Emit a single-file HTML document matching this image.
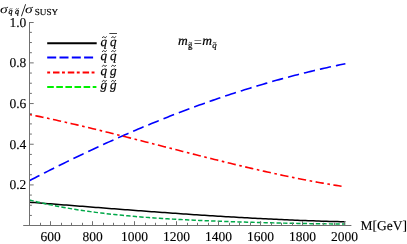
<!DOCTYPE html>
<html><head><meta charset="utf-8"><title>plot</title>
<style>
html,body{margin:0;padding:0;background:#fff;}
body{width:407px;height:244px;overflow:hidden;}
svg{display:block;font-family:"Liberation Serif",serif;text-rendering:geometricPrecision;will-change:transform;}
</style></head><body>
<svg width="407" height="244" viewBox="0 0 407 244">
<rect width="407" height="244" fill="#fff"/>
<g font-size="13.5" fill="#000" stroke="#000" stroke-width="0.12"><text x="50.5" y="241" text-anchor="middle">600</text><text x="92.5" y="241" text-anchor="middle">800</text><text x="134.5" y="241" text-anchor="middle">1000</text><text x="176.5" y="241" text-anchor="middle">1200</text><text x="218.5" y="241" text-anchor="middle">1400</text><text x="260.5" y="241" text-anchor="middle">1600</text><text x="302.5" y="241" text-anchor="middle">1800</text><text x="344.5" y="241" text-anchor="middle">2000</text><text x="26.3" y="189.2" text-anchor="end">0.2</text><text x="26.3" y="148.5" text-anchor="end">0.4</text><text x="26.3" y="107.9" text-anchor="end">0.6</text><text x="26.3" y="67.2" text-anchor="end">0.8</text><text x="26.3" y="26.8" text-anchor="end">1.0</text></g>
<text x="360.5" y="229.6" font-size="13.5" stroke="#000" stroke-width="0.12">M[GeV]</text>
<!-- curves -->
<path d="M29.40 202.17 L32.06 202.38 L34.71 202.59 L37.37 202.80 L40.02 203.01 L42.68 203.22 L45.33 203.43 L47.99 203.64 L50.64 203.85 L53.30 204.06 L55.95 204.27 L58.61 204.48 L61.27 204.69 L63.92 204.90 L66.58 205.11 L69.23 205.32 L71.89 205.53 L74.54 205.74 L77.20 205.95 L79.85 206.16 L82.51 206.37 L85.16 206.58 L87.82 206.79 L90.48 206.99 L93.13 207.20 L95.79 207.41 L98.44 207.62 L101.10 207.83 L103.75 208.03 L106.41 208.24 L109.06 208.44 L111.72 208.65 L114.37 208.85 L117.03 209.06 L119.69 209.26 L122.34 209.47 L125.00 209.67 L127.65 209.87 L130.31 210.07 L132.96 210.27 L135.62 210.47 L138.27 210.67 L140.93 210.87 L143.58 211.07 L146.24 211.26 L148.90 211.46 L151.55 211.65 L154.21 211.85 L156.86 212.04 L159.52 212.23 L162.17 212.42 L164.83 212.61 L167.48 212.80 L170.14 212.99 L172.79 213.18 L175.45 213.36 L178.11 213.55 L180.76 213.73 L183.42 213.91 L186.07 214.10 L188.73 214.28 L191.38 214.45 L194.04 214.63 L196.69 214.81 L199.35 214.98 L202.01 215.16 L204.66 215.33 L207.32 215.50 L209.97 215.67 L212.63 215.84 L215.28 216.00 L217.94 216.17 L220.59 216.33 L223.25 216.49 L225.90 216.65 L228.56 216.81 L231.22 216.97 L233.87 217.12 L236.53 217.27 L239.18 217.43 L241.84 217.58 L244.49 217.72 L247.15 217.87 L249.80 218.02 L252.46 218.16 L255.11 218.30 L257.77 218.44 L260.43 218.58 L263.08 218.71 L265.74 218.84 L268.39 218.97 L271.05 219.10 L273.70 219.23 L276.36 219.36 L279.01 219.48 L281.67 219.60 L284.32 219.72 L286.98 219.83 L289.64 219.95 L292.29 220.06 L294.95 220.17 L297.60 220.28 L300.26 220.38 L302.91 220.49 L305.57 220.59 L308.22 220.68 L310.88 220.78 L313.53 220.87 L316.19 220.96 L318.85 221.05 L321.50 221.14 L324.16 221.22 L326.81 221.30 L329.47 221.38 L332.12 221.45 L334.78 221.53 L337.43 221.60 L340.09 221.66 L342.74 221.73 L345.40 221.79" fill="none" stroke="#000" stroke-width="1.5"/>
<path d="M29.40 199.97 L32.06 200.64 L34.71 201.30 L37.37 201.93 L40.02 202.55 L42.68 203.16 L45.33 203.75 L47.99 204.32 L50.64 204.88 L53.30 205.42 L55.95 205.95 L58.61 206.46 L61.27 206.96 L63.92 207.45 L66.58 207.93 L69.23 208.39 L71.89 208.84 L74.54 209.27 L77.20 209.70 L79.85 210.11 L82.51 210.51 L85.16 210.90 L87.82 211.28 L90.48 211.65 L93.13 212.01 L95.79 212.36 L98.44 212.69 L101.10 213.02 L103.75 213.34 L106.41 213.65 L109.06 213.95 L111.72 214.25 L114.37 214.53 L117.03 214.81 L119.69 215.08 L122.34 215.34 L125.00 215.59 L127.65 215.84 L130.31 216.08 L132.96 216.31 L135.62 216.54 L138.27 216.76 L140.93 216.97 L143.58 217.18 L146.24 217.38 L148.90 217.58 L151.55 217.77 L154.21 217.95 L156.86 218.13 L159.52 218.31 L162.17 218.48 L164.83 218.64 L167.48 218.80 L170.14 218.96 L172.79 219.11 L175.45 219.26 L178.11 219.41 L180.76 219.55 L183.42 219.68 L186.07 219.82 L188.73 219.95 L191.38 220.08 L194.04 220.20 L196.69 220.32 L199.35 220.44 L202.01 220.56 L204.66 220.67 L207.32 220.78 L209.97 220.89 L212.63 220.99 L215.28 221.09 L217.94 221.19 L220.59 221.29 L223.25 221.39 L225.90 221.48 L228.56 221.58 L231.22 221.67 L233.87 221.76 L236.53 221.84 L239.18 221.93 L241.84 222.01 L244.49 222.09 L247.15 222.17 L249.80 222.25 L252.46 222.33 L255.11 222.41 L257.77 222.48 L260.43 222.55 L263.08 222.62 L265.74 222.69 L268.39 222.76 L271.05 222.83 L273.70 222.89 L276.36 222.96 L279.01 223.02 L281.67 223.08 L284.32 223.14 L286.98 223.20 L289.64 223.26 L292.29 223.31 L294.95 223.37 L297.60 223.42 L300.26 223.47 L302.91 223.52 L305.57 223.57 L308.22 223.61 L310.88 223.66 L313.53 223.70 L316.19 223.74 L318.85 223.78 L321.50 223.81 L324.16 223.84 L326.81 223.88 L329.47 223.90 L332.12 223.93 L334.78 223.96 L337.43 223.98 L340.09 224.00 L342.74 224.01 L345.40 224.03" fill="none" stroke="#00a848" stroke-width="1.45" stroke-dasharray="4.36 2.185"/>
<path d="M29.40 180.69 L32.06 179.30 L34.71 177.92 L37.37 176.55 L40.02 175.19 L42.68 173.83 L45.33 172.47 L47.99 171.13 L50.64 169.78 L53.30 168.45 L55.95 167.12 L58.61 165.80 L61.27 164.48 L63.92 163.17 L66.58 161.86 L69.23 160.57 L71.89 159.28 L74.54 157.99 L77.20 156.71 L79.85 155.44 L82.51 154.17 L85.16 152.91 L87.82 151.66 L90.48 150.41 L93.13 149.17 L95.79 147.94 L98.44 146.71 L101.10 145.49 L103.75 144.28 L106.41 143.07 L109.06 141.87 L111.72 140.67 L114.37 139.49 L117.03 138.30 L119.69 137.13 L122.34 135.96 L125.00 134.80 L127.65 133.65 L130.31 132.50 L132.96 131.36 L135.62 130.22 L138.27 129.10 L140.93 127.98 L143.58 126.86 L146.24 125.76 L148.90 124.66 L151.55 123.56 L154.21 122.48 L156.86 121.40 L159.52 120.33 L162.17 119.26 L164.83 118.20 L167.48 117.15 L170.14 116.11 L172.79 115.07 L175.45 114.04 L178.11 113.02 L180.76 112.00 L183.42 110.99 L186.07 109.99 L188.73 109.00 L191.38 108.01 L194.04 107.03 L196.69 106.06 L199.35 105.09 L202.01 104.14 L204.66 103.18 L207.32 102.24 L209.97 101.31 L212.63 100.38 L215.28 99.46 L217.94 98.54 L220.59 97.63 L223.25 96.74 L225.90 95.84 L228.56 94.96 L231.22 94.08 L233.87 93.21 L236.53 92.35 L239.18 91.50 L241.84 90.65 L244.49 89.81 L247.15 88.98 L249.80 88.16 L252.46 87.34 L255.11 86.53 L257.77 85.73 L260.43 84.94 L263.08 84.15 L265.74 83.38 L268.39 82.61 L271.05 81.85 L273.70 81.09 L276.36 80.35 L279.01 79.61 L281.67 78.88 L284.32 78.15 L286.98 77.44 L289.64 76.73 L292.29 76.03 L294.95 75.34 L297.60 74.66 L300.26 73.98 L302.91 73.32 L305.57 72.66 L308.22 72.01 L310.88 71.37 L313.53 70.73 L316.19 70.10 L318.85 69.49 L321.50 68.88 L324.16 68.27 L326.81 67.68 L329.47 67.09 L332.12 66.52 L334.78 65.95 L337.43 65.39 L340.09 64.83 L342.74 64.29 L345.40 63.75" fill="none" stroke="#0000ff" stroke-width="1.6" stroke-dasharray="11.35 5.07"/>
<path d="M29.40 114.47 L32.04 115.01 L34.69 115.55 L37.33 116.10 L39.97 116.65 L42.62 117.21 L45.26 117.77 L47.91 118.34 L50.55 118.92 L53.19 119.49 L55.84 120.08 L58.48 120.67 L61.12 121.26 L63.77 121.85 L66.41 122.46 L69.06 123.06 L71.70 123.67 L74.34 124.28 L76.99 124.90 L79.63 125.52 L82.27 126.15 L84.92 126.77 L87.56 127.40 L90.21 128.04 L92.85 128.68 L95.49 129.32 L98.14 129.96 L100.78 130.61 L103.42 131.26 L106.07 131.91 L108.71 132.56 L111.35 133.22 L114.00 133.88 L116.64 134.54 L119.29 135.20 L121.93 135.87 L124.57 136.53 L127.22 137.20 L129.86 137.87 L132.50 138.54 L135.15 139.21 L137.79 139.89 L140.44 140.56 L143.08 141.24 L145.72 141.92 L148.37 142.59 L151.01 143.27 L153.65 143.95 L156.30 144.63 L158.94 145.31 L161.58 145.99 L164.23 146.67 L166.87 147.34 L169.52 148.02 L172.16 148.70 L174.80 149.38 L177.45 150.06 L180.09 150.74 L182.73 151.41 L185.38 152.09 L188.02 152.76 L190.67 153.44 L193.31 154.11 L195.95 154.78 L198.60 155.45 L201.24 156.12 L203.88 156.78 L206.53 157.45 L209.17 158.11 L211.82 158.77 L214.46 159.43 L217.10 160.08 L219.75 160.74 L222.39 161.39 L225.03 162.04 L227.68 162.68 L230.32 163.33 L232.96 163.97 L235.61 164.60 L238.25 165.24 L240.90 165.87 L243.54 166.49 L246.18 167.12 L248.83 167.74 L251.47 168.35 L254.11 168.96 L256.76 169.57 L259.40 170.18 L262.05 170.78 L264.69 171.37 L267.33 171.96 L269.98 172.55 L272.62 173.13 L275.26 173.71 L277.91 174.28 L280.55 174.85 L283.19 175.41 L285.84 175.97 L288.48 176.52 L291.13 177.07 L293.77 177.61 L296.41 178.14 L299.06 178.67 L301.70 179.19 L304.34 179.71 L306.99 180.22 L309.63 180.72 L312.28 181.22 L314.92 181.71 L317.56 182.20 L320.21 182.68 L322.85 183.15 L325.49 183.61 L328.14 184.07 L330.78 184.52 L333.43 184.96 L336.07 185.40 L338.71 185.82 L341.36 186.24 L344.00 186.66" fill="none" stroke="#ff0000" stroke-width="1.6" stroke-dasharray="2.6 3.5 8.3 3.6"/>
<g stroke="#707070" stroke-width="1" fill="none">
<line x1="23.2" y1="225.5" x2="351.4" y2="225.5"/>
<line x1="29.5" y1="225.5" x2="29.5" y2="22.0"/>
<line x1="40.50" y1="225.5" x2="40.50" y2="222.8"/>
<line x1="50.50" y1="225.5" x2="50.50" y2="221.2"/>
<line x1="61.50" y1="225.5" x2="61.50" y2="222.8"/>
<line x1="71.50" y1="225.5" x2="71.50" y2="222.8"/>
<line x1="82.50" y1="225.5" x2="82.50" y2="222.8"/>
<line x1="92.50" y1="225.5" x2="92.50" y2="221.2"/>
<line x1="103.50" y1="225.5" x2="103.50" y2="222.8"/>
<line x1="113.50" y1="225.5" x2="113.50" y2="222.8"/>
<line x1="124.50" y1="225.5" x2="124.50" y2="222.8"/>
<line x1="134.50" y1="225.5" x2="134.50" y2="221.2"/>
<line x1="145.50" y1="225.5" x2="145.50" y2="222.8"/>
<line x1="155.50" y1="225.5" x2="155.50" y2="222.8"/>
<line x1="166.50" y1="225.5" x2="166.50" y2="222.8"/>
<line x1="176.50" y1="225.5" x2="176.50" y2="221.2"/>
<line x1="187.50" y1="225.5" x2="187.50" y2="222.8"/>
<line x1="197.50" y1="225.5" x2="197.50" y2="222.8"/>
<line x1="208.50" y1="225.5" x2="208.50" y2="222.8"/>
<line x1="218.50" y1="225.5" x2="218.50" y2="221.2"/>
<line x1="229.50" y1="225.5" x2="229.50" y2="222.8"/>
<line x1="239.50" y1="225.5" x2="239.50" y2="222.8"/>
<line x1="250.50" y1="225.5" x2="250.50" y2="222.8"/>
<line x1="260.50" y1="225.5" x2="260.50" y2="221.2"/>
<line x1="271.50" y1="225.5" x2="271.50" y2="222.8"/>
<line x1="281.50" y1="225.5" x2="281.50" y2="222.8"/>
<line x1="292.50" y1="225.5" x2="292.50" y2="222.8"/>
<line x1="302.50" y1="225.5" x2="302.50" y2="221.2"/>
<line x1="313.50" y1="225.5" x2="313.50" y2="222.8"/>
<line x1="323.50" y1="225.5" x2="323.50" y2="222.8"/>
<line x1="334.50" y1="225.5" x2="334.50" y2="222.8"/>
<line x1="344.50" y1="225.5" x2="344.50" y2="221.2"/>
<line x1="29.5" y1="215.43" x2="31.9" y2="215.43"/>
<line x1="29.5" y1="205.26" x2="31.9" y2="205.26"/>
<line x1="29.5" y1="195.09" x2="31.9" y2="195.09"/>
<line x1="29.5" y1="184.92" x2="33.7" y2="184.92"/>
<line x1="29.5" y1="174.75" x2="31.9" y2="174.75"/>
<line x1="29.5" y1="164.58" x2="31.9" y2="164.58"/>
<line x1="29.5" y1="154.41" x2="31.9" y2="154.41"/>
<line x1="29.5" y1="144.24" x2="33.7" y2="144.24"/>
<line x1="29.5" y1="134.07" x2="31.9" y2="134.07"/>
<line x1="29.5" y1="123.90" x2="31.9" y2="123.90"/>
<line x1="29.5" y1="113.73" x2="31.9" y2="113.73"/>
<line x1="29.5" y1="103.56" x2="33.7" y2="103.56"/>
<line x1="29.5" y1="93.39" x2="31.9" y2="93.39"/>
<line x1="29.5" y1="83.22" x2="31.9" y2="83.22"/>
<line x1="29.5" y1="73.05" x2="31.9" y2="73.05"/>
<line x1="29.5" y1="62.88" x2="33.7" y2="62.88"/>
<line x1="29.5" y1="52.71" x2="31.9" y2="52.71"/>
<line x1="29.5" y1="42.54" x2="31.9" y2="42.54"/>
<line x1="29.5" y1="32.37" x2="31.9" y2="32.37"/>
<line x1="29.5" y1="22.50" x2="33.7" y2="22.50"/>
</g>
<!-- legend -->
<g fill="none" stroke-width="2">
<line x1="47.2" y1="43.3" x2="96.7" y2="43.3" stroke="#000"/>
<line x1="47.2" y1="57.6" x2="96.4" y2="57.6" stroke="#0000ff" stroke-dasharray="9 3.3"/>
<line x1="47.2" y1="72.4" x2="96.4" y2="72.4" stroke="#ff0000" stroke-dasharray="2.9 2.9 6.5 2.5"/>
<line x1="47.2" y1="87.1" x2="96.4" y2="87.1" stroke="#00f000" stroke-dasharray="6.6 2.5"/>
</g>
<g font-size="13.2" font-style="italic" fill="#000" stroke="#000" stroke-width="0.2">
<text x="100.5" y="45.5">q</text><text x="109.9" y="45.5">q</text>
<text x="100.5" y="60.1">q</text><text x="109.9" y="60.1">q</text>
<text x="100.5" y="74.6">q</text><text x="109.9" y="74.6">g</text>
<text x="100.5" y="89.2">g</text><text x="109.9" y="89.2">g</text>
</g>
<path d="M102.40 37.66 c0.48 -1.17 1.32 -1.17 2.00 -0.45 s1.52 0.72 2.00 -0.45" fill="none" stroke="#000" stroke-width="0.85" stroke-linecap="round"/>
<path d="M111.60 37.66 c0.48 -1.17 1.32 -1.17 2.00 -0.45 s1.52 0.72 2.00 -0.45" fill="none" stroke="#000" stroke-width="0.85" stroke-linecap="round"/>
<path d="M102.40 51.55 c0.48 -1.17 1.32 -1.17 2.00 -0.45 s1.52 0.72 2.00 -0.45" fill="none" stroke="#000" stroke-width="0.85" stroke-linecap="round"/>
<path d="M111.60 51.55 c0.48 -1.17 1.32 -1.17 2.00 -0.45 s1.52 0.72 2.00 -0.45" fill="none" stroke="#000" stroke-width="0.85" stroke-linecap="round"/>
<path d="M102.40 66.25 c0.48 -1.17 1.32 -1.17 2.00 -0.45 s1.52 0.72 2.00 -0.45" fill="none" stroke="#000" stroke-width="0.85" stroke-linecap="round"/>
<path d="M111.60 66.25 c0.48 -1.17 1.32 -1.17 2.00 -0.45 s1.52 0.72 2.00 -0.45" fill="none" stroke="#000" stroke-width="0.85" stroke-linecap="round"/>
<path d="M102.40 81.36 c0.48 -1.17 1.32 -1.17 2.00 -0.45 s1.52 0.72 2.00 -0.45" fill="none" stroke="#000" stroke-width="0.85" stroke-linecap="round"/>
<path d="M111.60 81.36 c0.48 -1.17 1.32 -1.17 2.00 -0.45 s1.52 0.72 2.00 -0.45" fill="none" stroke="#000" stroke-width="0.85" stroke-linecap="round"/>
<line x1="109.3" y1="33.5" x2="117.0" y2="33.5" stroke="#000" stroke-width="0.75"/>
<!-- annotation -->
<g fill="#000" stroke="#000" stroke-width="0.2">
<text x="177.9" y="45.1" font-size="13.5" font-style="italic">m</text>
<text x="188.1" y="48.1" font-size="8.8">g</text>
<text x="193.7" y="46.9" font-size="14.5" stroke="none">=</text>
<text x="202.2" y="45.1" font-size="13.5" font-style="italic">m</text>
<text x="212.2" y="48.1" font-size="8.8" font-style="italic">q</text>
</g>
<path d="M188.85 42.91 c0.35 -0.81 0.96 -0.81 1.45 -0.32 s1.10 0.50 1.45 -0.32" fill="none" stroke="#000" stroke-width="0.65" stroke-linecap="round"/><path d="M213.15 42.91 c0.35 -0.81 0.96 -0.81 1.45 -0.32 s1.10 0.50 1.45 -0.32" fill="none" stroke="#000" stroke-width="0.65" stroke-linecap="round"/>
<!-- y title -->
<g fill="#000" stroke="#000" stroke-width="0.2">
<text transform="translate(0.1,12.55) scale(1.3,1)" font-size="12" font-style="italic" stroke="none">σ</text>
<text x="8.6" y="13.8" font-size="8" font-style="italic" stroke-width="0.3">q</text>
<text x="15.0" y="13.8" font-size="8" font-style="italic" stroke-width="0.3">q</text>
<text x="20.9" y="15.9" font-size="18" stroke="none">/</text>
<text transform="translate(25.0,12.55) scale(1.3,1)" font-size="12" font-style="italic" stroke="none">σ</text>
<text x="34.7" y="14.6" font-size="9.2" stroke-width="0.15">SUSY</text>
</g>
<path d="M9.40 9.31 c0.31 -0.81 0.86 -0.81 1.30 -0.32 s0.99 0.50 1.30 -0.32" fill="none" stroke="#000" stroke-width="0.60" stroke-linecap="round"/><path d="M15.80 9.31 c0.31 -0.81 0.86 -0.81 1.30 -0.32 s0.99 0.50 1.30 -0.32" fill="none" stroke="#000" stroke-width="0.60" stroke-linecap="round"/>
</svg>
</body></html>
